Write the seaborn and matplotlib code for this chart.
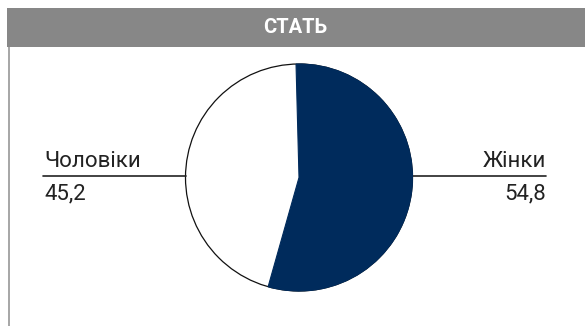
import matplotlib
matplotlib.use('Agg')
import matplotlib.pyplot as plt
import seaborn as sns
from matplotlib.patches import Rectangle

# Data
title = 'СТАТЬ'
labels = ['Жінки', 'Чоловіки']
values = [54.8, 45.2]
value_labels = ['54,8', '45,2']
colors = ['#002b5c', '#ffffff']

sns.set_theme(style='white')
plt.rcParams['font.family'] = ['Roboto', 'DejaVu Sans']

W, H = 585, 326
fig = plt.figure(figsize=(W / 100, H / 100), dpi=100)
ax = fig.add_axes([0, 0, 1, 1])

def py(y):
    # pixel row (from top) -> data y
    return H - y

# pie
cx, cy, r = 299, py(177.5), 113.5
wedges, _ = ax.pie(values, colors=colors, startangle=91.5, counterclock=False,
                   center=(cx, cy), radius=r, frame=True,
                   wedgeprops=dict(edgecolor='none'))
ax.set_xlim(0, W)
ax.set_ylim(0, H)
ax.set_aspect('equal')
ax.axis('off')
outline = plt.Circle((cx, cy), r, fill=False, edgecolor='#111111', linewidth=0.9)
ax.add_patch(outline)
wedges[0].set_edgecolor(colors[0])
wedges[0].set_linewidth(0.8)
wedges[0].set_zorder(3)

# header band and left border
ax.add_patch(Rectangle((7, py(46.5)), W - 7, 38.5, facecolor='#878787', edgecolor='none'))
ax.add_patch(Rectangle((7.5, 0), 2, py(46.5), facecolor='#a8a8a8', edgecolor='none'))
ax.text(W / 2 + 3, py(27.5), title, color='white', fontsize=14.5, fontweight='bold',
        ha='center', va='center')

# label lines
ly = py(175.5)
ax.plot([43, cx - r], [ly, ly], color='#222222', linewidth=1.2)
ax.plot([cx + r, 546], [ly, ly], color='#222222', linewidth=1.2)

# labels
fs = 16
ax.text(44, ly + 8.5, labels[1], fontsize=fs, color='#222222', ha='left', va='baseline')
ax.text(44, ly - 23.5, value_labels[1], fontsize=fs, color='#222222', ha='left', va='baseline')
ax.text(546, ly + 8.5, labels[0], fontsize=fs, color='#222222', ha='right', va='baseline')
ax.text(546, ly - 23.5, value_labels[0], fontsize=fs, color='#222222', ha='right', va='baseline')

fig.savefig('out.png', dpi=100)
